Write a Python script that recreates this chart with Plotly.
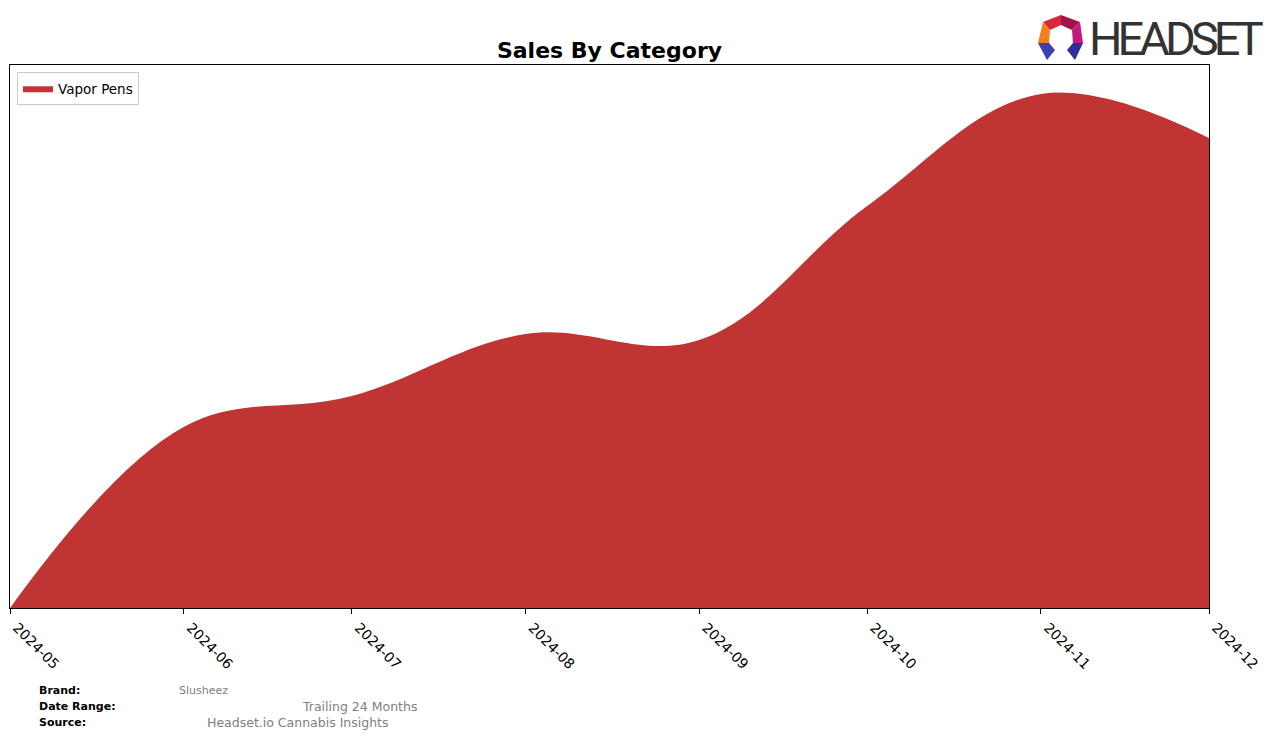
import plotly.graph_objects as go

# data (heights, arbitrary units - the chart has no y ticks)
months = ['2024-05-01', '2024-06-01', '2024-07-01', '2024-08-01',
          '2024-09-01', '2024-10-01', '2024-11-01', '2024-12-01']
vapor_pens = [0, 181, 212, 274, 268, 402, 514, 470]
tick_vals = months
tick_text = ['2024-05', '2024-06', '2024-07', '2024-08',
             '2024-09', '2024-10', '2024-11', '2024-12']

W, H = 1276, 738
OFF = 8  # page body margin
L, R, T, B = 10 - OFF, W - 1209 + OFF, 65 - OFF, H - 608 + OFF
PW, PH = W - L - R, H - T - B


def px(x, y):
    # screen pixel -> paper coords
    return (x - OFF - L) / PW, (H - B - (y - OFF)) / PH


fig = go.Figure()

fig.add_trace(go.Scatter(
    x=months, y=vapor_pens, name='Vapor Pens',
    mode='lines', line=dict(color='#c03434', width=0, shape='spline', smoothing=1.1),
    fill='tozeroy', fillcolor='#c03434'
))

# logo (HEADSET) drawn with paths
logo = [
    ([(1043, 22), (1061, 15), (1061, 25), (1050, 30)], '#d8283a'),
    ([(1061, 15), (1080, 22), (1072, 30), (1061, 25)], '#a0144a'),
    ([(1080, 22), (1083, 43), (1073, 43), (1072, 30)], '#c21a80'),
    ([(1043, 22), (1050, 30), (1049, 43), (1038, 43)], '#f08020'),
    ([(1038, 43), (1049, 43), (1055, 50), (1047, 60)], '#3c3fb0'),
    ([(1073, 43), (1083, 43), (1075, 60), (1067, 50)], '#2e2f96'),
]
shapes = []
for pts, col in logo:
    p = [px(a, b) for a, b in pts]
    path = 'M ' + ' L '.join(f'{a:.5f},{b:.5f}' for a, b in p) + ' Z'
    shapes.append(dict(type='path', path=path, xref='paper', yref='paper',
                       fillcolor=col, line=dict(width=0), layer='above'))

ann = []
lx, ly = px(1087, 38)
ann.append(dict(text='<span style="letter-spacing:-5px">HEADSET</span>',
                x=lx, y=ly, xref='paper', yref='paper',
                xanchor='left', yanchor='middle', showarrow=False,
                font=dict(family='Roboto, sans-serif', size=47, color='#333333')))

footer = [
    ('Brand:', 37, 690, True, 11, 'black'),
    ('Slusheez', 177, 690, False, 11, '#808080'),
    ('Date Range:', 37, 706, True, 11, 'black'),
    ('Trailing 24 Months', 300, 706, False, 12.5, '#808080'),
    ('Source:', 37, 722, True, 11, 'black'),
    ('Headset.io Cannabis Insights', 205, 722, False, 12.5, '#808080'),
]
for txt, x, y, bold, size, col in footer:
    fx, fy = px(x, y)
    ann.append(dict(text=f'<b>{txt}</b>' if bold else txt, x=fx, y=fy,
                    xref='paper', yref='paper', xanchor='left', yanchor='middle',
                    showarrow=False, font=dict(family='DejaVu Sans', size=size, color=col)))

fig.update_layout(
    width=W, height=H,
    margin=dict(l=L, r=R, t=T, b=B),
    paper_bgcolor='white', plot_bgcolor='white',
    title=dict(text='<b>Sales By Category</b>', x=0.5, xref='paper',
               y=1 - (50 - OFF) / H, yref='container', xanchor='center', yanchor='middle',
               font=dict(family='DejaVu Sans', size=22, color='black')),
    font=dict(family='DejaVu Sans', size=13, color='black'),
    showlegend=True,
    legend=dict(x=px(17, 72)[0], y=px(17, 72)[1], xanchor='left', yanchor='top',
                bordercolor='#cccccc', borderwidth=1, bgcolor='white',
                font=dict(size=13.5), tracegroupgap=0, itemwidth=30),
    shapes=shapes,
    annotations=ann,
)

fig.update_xaxes(
    range=[months[0], months[-1]], tickvals=tick_vals, ticktext=tick_text,
    tickangle=45, ticks='outside', ticklen=5, tickcolor='black',
    showline=True, mirror=True, linecolor='black', linewidth=1,
    showgrid=False, zeroline=False, tickfont=dict(size=14), automargin=False,
    ticklabeloverflow='allow', ticklabelshift=7
)
fig.update_yaxes(
    range=[0, 543], showticklabels=False, ticks='',
    showline=True, mirror=True, linecolor='black', linewidth=1,
    showgrid=False, zeroline=False, automargin=False
)

fig.write_html('out.html')
